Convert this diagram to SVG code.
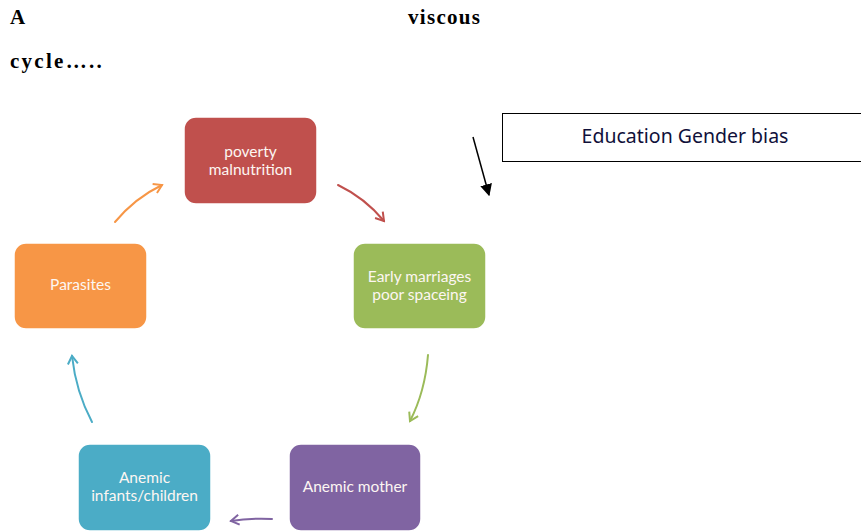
<svg xmlns="http://www.w3.org/2000/svg" width="861" height="531" viewBox="0 0 861 531">
<defs>
<style>
.title{font-family:"Liberation Serif",serif;font-weight:bold;font-size:21px;letter-spacing:1.3px;fill:#000}
.box{stroke:#fff;stroke-width:1.5}
.lbl{font-family:Lato,"Open Sans",sans-serif;font-size:15.5px;fill:#fdf6f2;text-anchor:middle}
.arr{fill:none;stroke-width:2;stroke-linecap:round}
</style>
<marker id="mk-o" viewBox="0 0 12 12" refX="10" refY="6" markerWidth="12" markerHeight="12" markerUnits="userSpaceOnUse" orient="auto"><path d="M2,1 L10,6 L2,11" fill="none" stroke="#F79646" stroke-width="2"/></marker>
<marker id="mk-r" viewBox="0 0 12 12" refX="10" refY="6" markerWidth="12" markerHeight="12" markerUnits="userSpaceOnUse" orient="auto"><path d="M2,1 L10,6 L2,11" fill="none" stroke="#C0504D" stroke-width="2"/></marker>
<marker id="mk-g" viewBox="0 0 12 12" refX="10" refY="6" markerWidth="12" markerHeight="12" markerUnits="userSpaceOnUse" orient="auto"><path d="M2,1 L10,6 L2,11" fill="none" stroke="#9BBB59" stroke-width="2"/></marker>
<marker id="mk-p" viewBox="0 0 12 12" refX="10" refY="6" markerWidth="12" markerHeight="12" markerUnits="userSpaceOnUse" orient="auto"><path d="M2,1 L10,6 L2,11" fill="none" stroke="#8064A2" stroke-width="2"/></marker>
<marker id="mk-b" viewBox="0 0 12 12" refX="10" refY="6" markerWidth="12" markerHeight="12" markerUnits="userSpaceOnUse" orient="auto"><path d="M2,1 L10,6 L2,11" fill="none" stroke="#4BACC6" stroke-width="2"/></marker>
<marker id="mk-k" viewBox="0 0 10 10" refX="9" refY="5" markerWidth="12" markerHeight="12" markerUnits="userSpaceOnUse" orient="auto"><path d="M0,0 L10,5 L0,10 Z" fill="#000"/></marker>
</defs>
<rect width="861" height="531" fill="#fff"/>
<g id="title">
<text class="title" x="10" y="24">A</text>
<text class="title" x="408" y="24">viscous</text>
<text class="title" x="10" y="68" textLength="93" lengthAdjust="spacing">cycle…..</text>
</g>
<g id="connectors">
<path class="arr" stroke="#F79646" d="M115,222 Q135,198 162,185" marker-end="url(#mk-o)"/>
<path class="arr" stroke="#C0504D" d="M338,185 Q365,198 384,221" marker-end="url(#mk-r)"/>
<path class="arr" stroke="#9BBB59" d="M428,355 Q425,392 410,421" marker-end="url(#mk-g)"/>
<path class="arr" stroke="#8064A2" d="M272,519 Q250,518 231,521" marker-end="url(#mk-p)"/>
<path class="arr" stroke="#4BACC6" d="M92,422 Q76,392 72,356" marker-end="url(#mk-b)"/>
<path fill="none" stroke="#000" stroke-width="1.5" d="M473,137 L489,195" marker-end="url(#mk-k)"/>
</g>
<g id="node-poverty">
<rect class="box" x="184" y="117" width="133" height="87" rx="12" fill="#C0504D"/>
<text class="lbl" x="250.5" y="157">poverty</text>
<text class="lbl" x="250.5" y="175">malnutrition</text>
</g>
<g id="node-early">
<rect class="box" x="353" y="243" width="133" height="86" rx="12" fill="#9BBB59"/>
<text class="lbl" x="419.5" y="282">Early marriages</text>
<text class="lbl" x="419.5" y="300">poor spaceing</text>
</g>
<g id="node-mother">
<rect class="box" x="289" y="444" width="132" height="87" rx="12" fill="#8064A2"/>
<text class="lbl" x="355" y="492">Anemic mother</text>
</g>
<g id="node-infants">
<rect class="box" x="78" y="444" width="133" height="87" rx="12" fill="#4BACC6"/>
<text class="lbl" x="144.5" y="483">Anemic</text>
<text class="lbl" x="144.5" y="501">infants/children</text>
</g>
<g id="node-parasites">
<rect class="box" x="14" y="243" width="133" height="86" rx="12" fill="#F79646"/>
<text class="lbl" x="80.5" y="290">Parasites</text>
</g>
<g id="node-education">
<rect x="502.5" y="113.5" width="362" height="48" fill="#fff" stroke="#000" stroke-width="1"/>
<text x="685" y="143" font-family="'Noto Sans',sans-serif" font-size="19.5" fill="#10103a" text-anchor="middle">Education Gender bias</text>
</g>
</svg>
